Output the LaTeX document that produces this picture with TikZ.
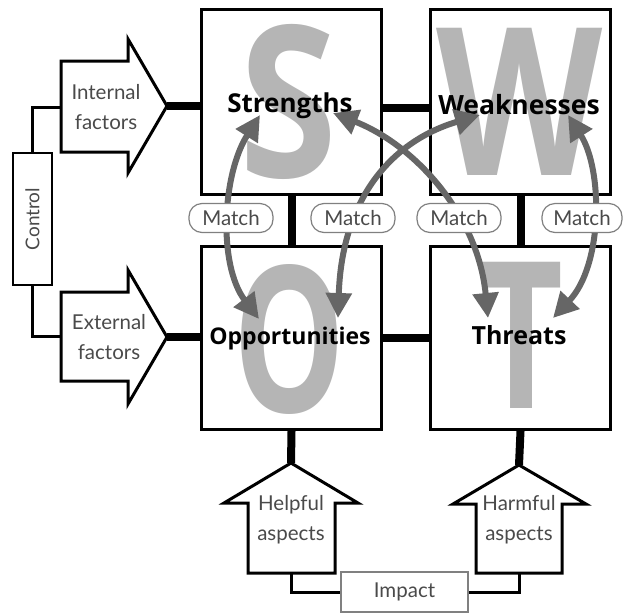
\documentclass[tikz,border=0pt]{standalone}
\usepackage{fontspec}
\setmainfont{Open Sans}
\newfontfamily\hand{Lato}
\usetikzlibrary{arrows.meta}
\definecolor{lettergray}{HTML}{B5B5B5}
\definecolor{arrowgray}{HTML}{666666}
\definecolor{handgray}{HTML}{4A4A4A}
\begin{document}
\begin{tikzpicture}[x=1pt,y=-1pt,
  box/.style={draw, line width=3pt, minimum width=180pt, minimum height=185pt, anchor=north west, inner sep=0pt},
  conn/.style={line width=8pt},
  thinconn/.style={line width=3pt},
  blockarrow/.style={draw, line width=3pt, fill=white, line join=miter},
  garrow/.style={draw=arrowgray, line width=6pt, {Triangle[length=25pt,width=25pt]}-{Triangle[length=25pt,width=25pt]}},
  match/.style={draw=gray, line width=1.2pt, rounded corners=13pt, fill=white, minimum width=84pt, minimum height=29pt, inner sep=0pt, font=\hand\fontsize{20.5}{20.5}\selectfont, text=handgray},
  lbl/.style={font=\bfseries\fontsize{26}{26}\selectfont},
  handtxt/.style={font=\hand\fontsize{20.5}{30}\selectfont, text=handgray, align=center},
  bigletter/.style={text=lettergray, inner sep=0pt, font=\bfseries}
]
\useasboundingbox (0,0) rectangle (623,614);

% boxes
\node[box] (S) at (200,8) {};
\node[box] (W) at (429,8) {};
\node[box, minimum height=183pt] (O) at (200,245) {};
\node[box, minimum height=183pt] (T) at (429,245) {};

% big letters
\node[bigletter] (bS) at (288,101.5) {\resizebox{98pt}{153pt}{S}};
\node[bigletter] (bW) at (520,101.5) {\resizebox{166pt}{147pt}{W}};
\node[bigletter] (bO) at (290,339) {\resizebox{112pt}{148pt}{O}};
\node[bigletter] (bT) at (522,335) {\resizebox{84pt}{146pt}{T}};

% labels
\node[lbl] (lS) at (290,106) {Strengths};
\node[lbl, font=\bfseries\fontsize{26.5}{26.5}\selectfont] (lW) at (519,105) {Weaknesses};
\node[lbl, font=\bfseries\fontsize{23}{23}\selectfont] (lO) at (290,339) {Opportunities};
\node[lbl, font=\bfseries\fontsize{25}{25}\selectfont] (lT) at (519,335) {Threats};

% thick connectors between boxes
\draw[conn] ([yshift=-6pt]S.east) -- ([yshift=-6pt]W.west);
\draw[conn] (O.east) -- (T.west);
\draw[conn] (S.south) -- (O.north);
\draw[conn] (W.south) -- (T.north);

% block arrows left
\draw[blockarrow] (61,61) -- (128,61) -- (128,39) -- (167,106) -- (128,173) -- (128,152) -- (61,152) -- cycle;
\coordinate (inTip) at (167,106);
\coordinate (inBase) at (61,107);
\node[handtxt] (inTxt) at (106,107) {Internal\\factors};
\draw[blockarrow] (61,292) -- (128,292) -- (128,270) -- (167,337) -- (128,404) -- (128,381) -- (61,381) -- cycle;
\coordinate (exTip) at (167,337);
\coordinate (exBase) at (61,336);
\node[handtxt] (exTxt) at (109,337) {External\\factors};
\draw[conn] (inTip) -- (inTip -| S.west);
\draw[conn] (exTip) -- (exTip -| O.west);

% control
\node[draw, line width=2pt, minimum width=39pt, minimum height=132pt, inner sep=0pt] (ctrl) at (32.5,219) {};
\node[handtxt, rotate=90, font=\hand\fontsize{19}{19}\selectfont] (ctrlTxt) at (ctrl) {Control};
\draw[thinconn] (ctrl.north) |- (inBase);
\draw[thinconn] (ctrl.south) |- (exBase);

% block arrows bottom
\draw[blockarrow] (248,573) -- (248,503) -- (224,503) -- (291,463) -- (358,503) -- (335,503) -- (335,573) -- cycle;
\coordinate (helpTip) at (291,463);
\coordinate (helpBase) at (291,573);
\node[handtxt] (helpTxt) at (291,520) {Helpful\\aspects};
\draw[blockarrow] (476,573) -- (476,504) -- (453,504) -- (519,465) -- (586,504) -- (562,504) -- (562,573) -- cycle;
\coordinate (harmTip) at (519,465);
\coordinate (harmBase) at (519,573);
\node[handtxt] (harmTxt) at (519,520) {Harmful\\aspects};
\draw[conn] (O.south) -- (helpTip);
\draw[conn] (T.south) -- (harmTip);

% impact
\node[draw=gray, line width=1.5pt, minimum width=127pt, minimum height=40pt, inner sep=0pt, handtxt] (imp) at (404.5,592) {Impact};
\draw[thinconn] (helpBase) |- (imp.west);
\draw[thinconn] (harmBase) |- (imp.east);

% gray curved match arrows
\coordinate (a1) at (260,115); \coordinate (b1) at (259,319);
\coordinate (a2) at (480,115); \coordinate (b2) at (338,318);
\coordinate (a3) at (333,113); \coordinate (b3) at (488,318);
\coordinate (a4) at (568,115); \coordinate (b4) at (553,318);
\draw[garrow] (a1) .. controls (222,175) and (218,265) .. (b1);
\draw[garrow] (a2) .. controls (395,140) and (342,195) .. (b2);
\draw[garrow] (a3) .. controls (415,145) and (478,215) .. (b3);
\draw[garrow] (a4) .. controls (603,170) and (603,265) .. (b4);

% match labels
\node[match] (m1) at (231,218) {Match};
\node[match] (m2) at (353,218) {Match};
\node[match] (m3) at (459,218) {Match};
\node[match, minimum width=80pt] (m4) at (582,218) {Match};
\end{tikzpicture}
\end{document}
